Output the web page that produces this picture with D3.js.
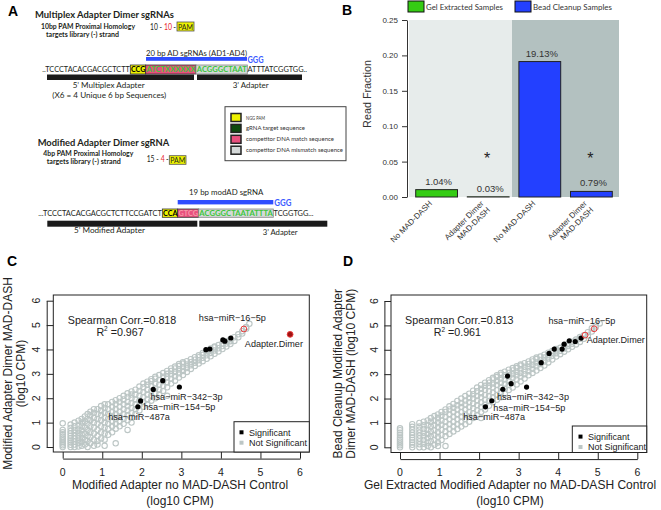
<!DOCTYPE html>
<html><head><meta charset="utf-8">
<script src="https://cdn.jsdelivr.net/npm/d3@7"></script>
<style>body{margin:0;background:#fff}svg{display:block}</style>
</head><body>
<svg id="fig" width="661" height="510"></svg>
<script>
// ---------------- DATA ----------------
const barCategories = ["No MAD-DASH","Adapter Dimer\nMAD-DASH","No MAD-DASH","Adapter Dimer\nMAD-DASH"];
const barGroupIndex = [0,0,1,1];
const groupNames = ["Gel Extracted Samples","Bead Cleanup Samples"];
const barValues = [0.0104,0.0003,0.1913,0.0079];
const barLabels = ["1.04%","0.03%","19.13%","0.79%"];
const barSignificant = [false,true,false,true];
const barSigLevel = 0.06;
const barTicks = [0,0.05,0.10,0.15,0.20,0.25];

const scatterTicks = [0,1,2,3,4,5,6];

// Panel C: gray (not significant) cloud, columns [x, [y...]]
const cloudC = [
[0,[0,.07,.14,.21,.28,.35,.43,.52,.6,.7,.97]],
[.2,[0,.09,.18,.27,.36,.46,.56,.66,.78,.92]],
[.3,[0,.1,.22,.34,.46,.58,.7,.85,1.0]],
[.4,[.02,.16,.3,.44,.58,.72,.88,1.08]],
[.48,[.05,.2,.36,.52,.68,.84,1.0,1.15]],
[.56,[.1,.3,.55,.8,1.05,1.25]],
[.63,[0,.25,.45,.7,.95,1.15,1.35]],
[.7,[.15,.4,.6,.85,1.1,1.3,1.45]],
[.79,[.05,.3,.55,.8,1.0,1.2,1.4,1.55]],
[.88,[.1,.25,.45,.7,.95,1.15,1.35,1.55]],
[.97,[.35,.6,.85,1.1,1.3,1.5,1.68]],
[1.06,[.05,.3,.55,.8,1.0,1.2,1.4,1.6,1.75]],
[1.15,[.5,.75,.95,1.15,1.35,1.55,1.75]],
[1.25,[.6,.85,1.05,1.25,1.45,1.65,1.85]],
[1.34,[.15,.75,.95,1.15,1.35,1.55,1.75,1.92]],
[1.44,[.85,1.05,1.25,1.45,1.65,1.85,2.0]],
[1.54,[.95,1.15,1.35,1.55,1.75,1.95,2.1]],
[1.64,[.7,1.1,1.3,1.5,1.68,1.85,2.05,2.2]],
[1.74,[1.0,1.2,1.4,1.6,1.8,2.0,2.15,2.28]],
[1.84,[1.35,1.55,1.75,1.95,2.15,2.35]],
[1.94,[1.5,1.7,1.9,2.1,2.3,2.48]],
[2.04,[1.65,1.85,2.05,2.25,2.45,2.6]],
[2.14,[1.75,1.95,2.15,2.35,2.55,2.68]],
[2.24,[1.9,2.1,2.3,2.5,2.7,2.78]],
[2.34,[2.0,2.2,2.4,2.6,2.8,2.88]],
[2.44,[2.15,2.35,2.55,2.75,2.95]],
[2.54,[2.3,2.5,2.7,2.88,3.03]],
[2.64,[2.1,2.45,2.65,2.85,3.0,3.12]],
[2.74,[2.6,2.8,2.98,3.12,3.22]],
[2.84,[2.72,2.9,3.08,3.22,3.3]],
[2.94,[2.85,3.02,3.18,3.32,3.4]],
[3.04,[2.95,3.12,3.28,3.42,3.48]],
[3.14,[3.08,3.24,3.38,3.52]],
[3.24,[3.2,3.35,3.48,3.6]],
[3.34,[3.32,3.46,3.58,3.68]],
[3.44,[3.42,3.56,3.68,3.76]],
[3.54,[3.52,3.66,3.78,3.86]],
[3.64,[3.62,3.76,3.88,3.95]],
[3.74,[3.72,3.86,3.98,4.04]],
[3.84,[3.82,3.96,4.08,4.12]],
[3.94,[3.92,4.05,4.18]],
[4.04,[4.02,4.14,4.25]],
[4.14,[4.12,4.24,4.34]],
[4.24,[4.22,4.34,4.42]],
[4.34,[4.35,4.5]],
[4.44,[4.5,4.62]],
[4.54,[4.65,4.75]],
[4.64,[4.85,4.92]],
[4.72,[5.05]]
];
const sigC = [[4.25,4.47],[4.10,4.34],[4.05,4.39],[3.72,4.02],[3.62,3.99],[2.53,2.72],[2.29,2.36],[2.95,2.46],[1.97,1.89],[1.90,1.65]];
const highlightC = [{x:4.58,y:4.84,filled:false},{x:5.75,y:4.62,filled:true}];
const labelsC = [
 ["hsa−miR−16−5p",4.29,5.29,"middle"],
 ["Adapter.Dimer",5.34,4.22,"middle"],
 ["hsa−miR−342−3p",2.22,2.06,"start"],
 ["hsa−miR−154−5p",2.04,1.63,"start"],
 ["hsa−miR−487a",1.15,1.24,"start"]
];
const statsC = ["0.818","0.967"];

// Panel D
const cloudD = [
[0,[0,.08,.16,.24,.32,.4,.5,.6,.7,.78]],
[.31,[0,.1,.2,.3,.4,.5,.6,.72,.84,.95]],
[.49,[0,.12,.24,.36,.48,.6,.72,.85,1.0]],
[.6,[0,.15,.3,.45,.6,.75,.9,1.05]],
[.7,[.05,.2,.38,.55,.72,.9,1.1]],
[.78,[0,.25,.45,.65,.85,1.05,1.2]],
[.87,[.1,.3,.5,.7,.9,1.1,1.28]],
[.96,[.05,.2,.42,.62,.82,1.02,1.2,1.35]],
[1.05,[.3,.5,.72,.92,1.1,1.3,1.45]],
[1.15,[.05,.45,.65,.85,1.05,1.25,1.45,1.55]],
[1.25,[.55,.75,.95,1.15,1.35,1.55,1.68]],
[1.35,[.65,.85,1.05,1.25,1.45,1.62,1.78]],
[1.45,[.75,.95,1.15,1.35,1.55,1.72,1.9]],
[1.55,[.85,1.05,1.25,1.45,1.65,1.82,2.0]],
[1.65,[.95,1.15,1.35,1.55,1.75,1.92,2.1]],
[1.75,[1.05,1.25,1.45,1.65,1.85,2.02,2.2]],
[1.85,[1.2,1.4,1.6,1.8,2.0,2.18,2.32]],
[1.95,[1.32,1.52,1.72,1.92,2.1,2.3,2.45]],
[2.05,[1.2,1.45,1.65,1.85,2.05,2.22,2.4,2.56]],
[2.15,[1.55,1.75,1.95,2.15,2.35,2.52,2.65]],
[2.25,[1.7,1.9,2.1,2.3,2.5,2.65,2.75]],
[2.35,[1.85,2.05,2.25,2.45,2.62,2.78,2.85]],
[2.45,[1.95,2.15,2.35,2.55,2.72,2.88,2.95]],
[2.55,[2.05,2.25,2.45,2.65,2.82,2.98,3.05]],
[2.65,[2.2,2.4,2.6,2.78,2.95,3.1]],
[2.75,[2.35,2.55,2.72,2.9,3.05,3.18]],
[2.85,[2.45,2.65,2.85,3.0,3.15,3.25]],
[2.95,[2.58,2.78,2.95,3.1,3.25,3.32]],
[3.05,[2.7,2.9,3.05,3.2,3.35,3.4]],
[3.15,[2.82,3.0,3.15,3.3,3.45]],
[3.25,[2.95,3.12,3.28,3.42,3.52]],
[3.35,[3.05,3.22,3.38,3.52,3.6]],
[3.45,[3.15,3.32,3.48,3.62,3.68]],
[3.55,[3.25,3.42,3.58,3.72]],
[3.65,[3.35,3.52,3.68,3.8]],
[3.75,[3.48,3.64,3.78,3.88]],
[3.85,[3.6,3.75,3.88,3.95]],
[3.95,[3.72,3.86,3.98,4.03]],
[4.05,[3.82,3.96,4.08]],
[4.15,[3.92,4.05,4.16]],
[4.25,[4.02,4.15,4.25]],
[4.35,[4.12,4.25,4.33]],
[4.45,[4.22,4.35,4.42]],
[4.55,[4.32,4.45,4.52]],
[4.65,[4.45,4.6]],
[4.75,[4.58,4.72]],
[4.85,[4.75,4.88]],
[4.95,[4.92,5.0]],
[5.05,[5.08]]
];
const sigD = [[4.58,4.48],[4.43,4.34],[4.28,4.37],[4.15,4.23],[4.10,4.03],[3.90,4.03],[3.77,3.85],[3.57,3.47],[2.72,2.92],[2.81,2.61],[3.20,2.47],[2.60,2.38],[2.32,1.91],[2.16,1.66]];
const highlightD = [{x:4.91,y:4.86,filled:false},{x:4.68,y:4.60,filled:false}];
const labelsD = [
 ["hsa−miR−16−5p",4.60,5.18,"middle"],
 ["Adapter.Dimer",4.72,4.40,"start"],
 ["hsa−miR−342−3p",2.45,2.07,"start"],
 ["hsa−miR−154−5p",2.36,1.64,"start"],
 ["hsa−miR−487a",1.60,1.25,"start"]
];
const statsD = ["0.813","0.961"];

// ---------------- DRAW ----------------
const svg = d3.select("#fig");
const SANS = "'Liberation Sans', Arial, Helvetica, sans-serif";
const HUM = "Lato, 'Open Sans', sans-serif";

function txt(g,x,y,s,o={}){
  const t=g.append("text").attr("x",x).attr("y",y)
    .attr("font-family",o.ff||HUM).attr("font-size",o.fs||8)
    .attr("fill",o.fill||"#231f20");
  if(s!==null) t.text(s);
  if(o.bold) t.attr("font-weight","bold");
  if(o.w) t.attr("textLength",o.w).attr("lengthAdjust","spacingAndGlyphs");
  if(o.anchor) t.attr("text-anchor",o.anchor);
  return t;
}

// panel letters
[["A",8,16],["B",342,15],["C",7,266],["D",343,266]].forEach(([s,x,y])=>
  txt(svg,x,y,s,{ff:SANS,fs:14,bold:1,fill:"#000"}));

// ======== Panel A (schematic) ========
const gA = svg.append("g");
const YEL="#eef200", PINK="#e8507e", GRY="#d5d9d9", GRN="#3cc63c", BLU="#2f4dff", RED="#e8262b";
txt(gA,35,17.5,"Multiplex Adapter Dimer sgRNAs",{bold:1,fs:9.5,w:139});
txt(gA,41,29,"10bp PAM Proximal Homology",{bold:1,fs:6.5,w:94});
txt(gA,46,37,"targets library (-) strand",{bold:1,fs:6.5,w:73});
txt(gA,150,29.5,"10 -",{fs:8.5,w:12});
txt(gA,164,29.5,"10",{fs:8.5,w:8,fill:RED});
txt(gA,173.3,29.5,"-",{fs:8.5,w:2.8});
gA.append("rect").attr("x",177).attr("y",22).attr("width",17).attr("height",9).attr("fill",YEL).attr("stroke","#555").attr("stroke-width",0.8);
txt(gA,178,29.5,"PAM",{fs:8,w:15});

txt(gA,146,55.5,"20 bp AD sgRNAs (AD1-AD4)",{fs:8,w:101});
gA.append("rect").attr("x",146).attr("y",57).attr("width",101).attr("height",3.8).attr("fill",BLU);
txt(gA,247.5,63,"GGG",{fs:8.5,bold:1,fill:"#3d5cff",w:16});
[[130.3,15.4,YEL,"#333"],[145.7,50.3,PINK,"#333"],[196,51.3,GRY,"#888"]].forEach(([x,w,f,s])=>
  gA.append("rect").attr("x",x).attr("y",65).attr("width",w).attr("height",9).attr("fill",f).attr("stroke",s).attr("stroke-width",0.8));
txt(gA,42.3,72.3,"..TCCCTACACGACGCTCTT",{fs:7.5,w:87.5});
txt(gA,131,72.3,"CCG",{fs:7.5,bold:1,w:14.3,fill:"#000"});
txt(gA,146.5,72.3,"ATCTXXXXXX",{fs:7.5,bold:1,w:49,fill:GRN});
txt(gA,196.8,72.3,"ACGGGCTAAT",{fs:7.5,bold:1,w:50,fill:GRN});
txt(gA,247.6,72.3,"ATTTATCGGTGG..",{fs:7.5,w:59.5});
gA.append("rect").attr("x",47).attr("y",74.5).attr("width",147).attr("height",5.5).attr("fill","#1a1a1a");
gA.append("rect").attr("x",197).attr("y",74.5).attr("width",105).attr("height",5.5).attr("fill","#1a1a1a");
txt(gA,72.7,87.5,"5’ Multiplex Adapter",{fs:8,w:72});
txt(gA,52.3,97.5,"(X6 = 4  Unique 6 bp Sequences)",{fs:8,w:114});
txt(gA,232.7,87.5,"3’ Adapter",{fs:8,w:36});

// legend box
gA.append("rect").attr("x",225).attr("y",106.7).attr("width",121).attr("height",54).attr("fill","#fff").attr("stroke","#444").attr("stroke-width",1);
[["NGG PAM",YEL,19],["gRNA target sequence","#0d4a0d",59],["competitor DNA match sequence",PINK,88],["competitor DNA mismatch sequence",GRY,97]]
.forEach(([s,c,w],i)=>{
  const cy=117.5+i*10.9;
  gA.append("rect").attr("x",231).attr("y",cy-4).attr("width",10).attr("height",8).attr("fill",c).attr("stroke","#222").attr("stroke-width",1.5);
  txt(gA,246,cy+2,s,{fs:5.5,w:w,fill:"#333"});
});

txt(gA,37.7,145.7,"Modified Adapter Dimer sgRNA",{bold:1,fs:9.5,w:131.6});
txt(gA,43.3,156,"4bp PAM Proximal Homology",{bold:1,fs:6.5,w:90});
txt(gA,46.7,164.3,"targets library (-) strand",{bold:1,fs:6.5,w:74});
txt(gA,146.7,162.3,"15 -",{fs:8.5,w:12});
txt(gA,160.8,162.3,"4",{fs:8.5,w:4,fill:RED});
txt(gA,166,162.3,"-",{fs:8.5,w:2.6});
gA.append("rect").attr("x",169.3).attr("y",155.7).attr("width",16.7).attr("height",8.6).attr("fill",YEL).attr("stroke","#555").attr("stroke-width",0.8);
txt(gA,170.2,162.5,"PAM",{fs:8,w:15});
txt(gA,189,194.7,"19 bp modAD sgRNA",{fs:8,w:74.3});
gA.append("rect").attr("x",177.7).attr("y",200).attr("width",95.6).attr("height",4.4).attr("fill",BLU);
txt(gA,274.3,206,"GGG",{fs:8.5,bold:1,fill:"#3d5cff",w:17});
[[162.3,15.4,YEL,"#333"],[177.7,21,PINK,"#333"],[198.7,74.6,GRY,"#888"]].forEach(([x,w,f,s])=>
  gA.append("rect").attr("x",x).attr("y",209).attr("width",w).attr("height",8.3).attr("fill",f).attr("stroke",s).attr("stroke-width",0.8));
txt(gA,38.3,216,"...TCCCTACACGACGCTCTTCCGATCT",{fs:7.5,w:123.5});
txt(gA,163,216,"CCA",{fs:7.5,bold:1,w:14.5,fill:"#000"});
txt(gA,178.5,216,"GTCG",{fs:7.5,bold:1,w:19.5,fill:"#f59aa8"});
txt(gA,199.3,216,"ACGGGCTAATATTTA",{fs:7.5,bold:1,w:73.5,fill:GRN});
txt(gA,273.6,216,"TCGGTGG...",{fs:7.5,w:40});
gA.append("rect").attr("x",47.3).attr("y",220.7).attr("width",150).attr("height",6).attr("fill","#1a1a1a");
gA.append("rect").attr("x",199.3).attr("y",220.7).attr("width",128).attr("height",6).attr("fill","#1a1a1a");
txt(gA,74,233.3,"5’ Modified Adapter",{fs:8,w:71});
txt(gA,262.7,235,"3’ Adapter",{fs:8,w:35});

// ======== Panel B (bar chart) ========
const gB = svg.append("g");
const groupFill = ["#35cc14","#2340ff"];
const groupBg = ["#e7eceb","#b3c1c0"];
const bx = d3.scaleBand().domain(d3.range(barValues.length)).range([409,619]).paddingInner(0.19).paddingOuter(0.13);
const by = d3.scaleLinear().domain([0,0.25]).range([197,20]);
groupNames.forEach((g,gi)=>{
  const idx = d3.range(barValues.length).filter(i=>barGroupIndex[i]===gi);
  const half = bx.step()*bx.paddingInner()/2;
  const x0 = gi===0 ? bx.range()[0] : bx(idx[0]) - half - 2;
  const x1 = gi===groupNames.length-1 ? bx.range()[1] : bx(idx[idx.length-1]) + bx.bandwidth() + half - 2;
  gB.append("rect").attr("x",x0).attr("y",by(0.25)).attr("width",x1-x0).attr("height",by(0)-by(0.25)).attr("fill",groupBg[gi]);
});
gB.selectAll("rect.bar").data(barValues).join("rect").attr("class","bar")
  .attr("x",(d,i)=>bx(i)).attr("width",bx.bandwidth())
  .attr("y",d=>by(d)).attr("height",d=>by(0)-by(d))
  .attr("fill",(d,i)=>groupFill[barGroupIndex[i]]).attr("stroke","#222").attr("stroke-width",1);
gB.selectAll("text.bl").data(barValues).join("text").attr("class","bl")
  .attr("x",(d,i)=>bx(i)+bx.bandwidth()/2+2).attr("y",d=>by(d)-5)
  .attr("text-anchor","middle").attr("font-family",SANS).attr("font-size",9.5).attr("fill","#333")
  .text((d,i)=>barLabels[i]);
gB.selectAll("text.sig").data(barValues.map((d,i)=>i).filter(i=>barSignificant[i])).join("text").attr("class","sig")
  .attr("x",i=>bx(i)+bx.bandwidth()/2-1).attr("y",by(barSigLevel)+9)
  .attr("text-anchor","middle").attr("font-family",SANS).attr("font-size",16).attr("fill","#222").text("*");
const yAxB = d3.axisLeft(by).tickValues(barTicks).tickFormat(d3.format(".2f")).tickSize(5).tickPadding(4).tickSizeOuter(0);
const gyB = gB.append("g").attr("transform","translate(407,0)").call(yAxB);
gyB.selectAll("text").attr("font-family",SANS).attr("font-size",8).attr("fill","#333");
gyB.selectAll("line,path").attr("stroke","#333");
txt(gB,0,0,"Read Fraction",{ff:SANS,fs:10.8,fill:"#333",anchor:"middle"}).attr("transform","translate(371,94) rotate(-90)");
barCategories.forEach((c,i)=>{
  const g = gB.append("g").attr("transform",`translate(${bx(i)+bx.bandwidth()/2-4},204) rotate(-45)`);
  c.split("\n").forEach((line,j)=>txt(g,0,j*9,line,{ff:SANS,fs:8,fill:"#333",anchor:"end"}));
});
groupNames.forEach((n,gi)=>{
  const x = [408,515][gi];
  gB.append("rect").attr("x",x).attr("y",1).attr("width",16).attr("height",11).attr("fill",groupFill[gi]).attr("stroke","#111").attr("stroke-width",1);
  txt(gB,x+18,9.5,n,{fs:7,w:[77,79][gi],fill:"#333"});
});

// ======== Scatter panels ========
function scatter(cfg){
  const g = svg.append("g");
  const x = d3.scaleLinear().domain([0,6]).range(cfg.xr);
  const y = d3.scaleLinear().domain([0,6]).range(cfg.yr);
  const f = cfg.frame;
  const pts = cfg.cloud.flatMap(([cx,ys])=>ys.map(v=>[cx,v]));
  g.selectAll("circle.ns").data(pts).join("circle").attr("class","ns")
    .attr("cx",d=>x(d[0])).attr("cy",d=>y(d[1])).attr("r",2.7)
    .attr("fill","none").attr("stroke","#bcc6c5").attr("stroke-width",1.1);
  g.selectAll("circle.sg").data(cfg.sig).join("circle").attr("class","sg")
    .attr("cx",d=>x(d[0])).attr("cy",d=>y(d[1])).attr("r",2.6).attr("fill","#000");
  g.selectAll("circle.hl").data(cfg.hl).join("circle").attr("class","hl")
    .attr("cx",d=>x(d.x)).attr("cy",d=>y(d.y)).attr("r",2.9)
    .attr("fill",d=>d.filled?"#a01212":"none").attr("stroke","#e83a3a").attr("stroke-width",1);
  g.append("rect").attr("x",f[0]).attr("y",f[1]).attr("width",f[2]-f[0]).attr("height",f[3]-f[1])
    .attr("fill","none").attr("stroke","#222").attr("stroke-width",1);
  const ax = g.append("g").attr("transform",`translate(0,${f[3]+6.6})`)
    .call(d3.axisBottom(x).tickValues(scatterTicks).tickSize(-6.6).tickSizeOuter(0).tickFormat(""));
  const ay = g.append("g").attr("transform",`translate(${f[0]-6.6},0)`)
    .call(d3.axisLeft(y).tickValues(scatterTicks).tickSize(-6.6).tickSizeOuter(0).tickFormat(""));
  [ax,ay].forEach(a=>a.selectAll("line,path").attr("stroke","#222"));
  scatterTicks.forEach(t=>{
    txt(g,x(t),475.5,String(t),{ff:SANS,fs:10.5,fill:"#222",anchor:"middle"});
    txt(g,0,0,String(t),{ff:SANS,fs:10.5,fill:"#222",anchor:"middle"})
      .attr("transform",`translate(${f[0]-13.5},${y(t)}) rotate(-90)`);
  });
  cfg.xt.forEach((s,i)=>txt(g,cfg.xtc,489+i*16,s,{ff:SANS,fs:12,fill:"#222",anchor:"middle"}));
  cfg.yt.forEach((s,i)=>txt(g,0,0,s,{ff:SANS,fs:12,fill:"#222",anchor:"middle"})
      .attr("transform",`translate(${cfg.ytx+i*12.5},${(f[1]+f[3])/2}) rotate(-90)`));
  txt(g,x(1.5),y(5.2)+3.8,"Spearman Corr.="+cfg.stats[0],{ff:SANS,fs:10.7,fill:"#222",anchor:"middle"});
  const r2 = txt(g,x(1.45),y(4.72)+3.8,null,{ff:SANS,fs:10.7,fill:"#222",anchor:"middle"});
  r2.append("tspan").text("R");
  r2.append("tspan").attr("font-size",6.5).attr("dy",-4.5).text("2");
  r2.append("tspan").attr("dy",4.5).text(" =" + cfg.stats[1]);
  cfg.labels.forEach(([s,lx,ly,a])=>txt(g,x(lx),y(ly)+3.2,s,{ff:SANS,fs:9.1,fill:"#222",anchor:a}));
  const L = cfg.legend;
  g.append("rect").attr("x",L[0]).attr("y",L[1]).attr("width",f[2]-L[0]).attr("height",f[3]-L[1])
    .attr("fill","#fff").attr("stroke","#222").attr("stroke-width",1);
  [["Significant","#000"],["Not Significant","#bcc6c5"]].forEach(([s,c],i)=>{
    const cy = L[1]+10.6+i*10.4;
    g.append("rect").attr("x",L[2]-2).attr("y",cy-2).attr("width",4).attr("height",4).attr("fill",c);
    txt(g,L[2]+7.5,cy+3.2,s,{ff:SANS,fs:9,fill:"#222"});
  });
}
scatter({xr:[62.7,300],yr:[447,300.7],frame:[53.3,295,309.3,452],cloud:cloudC,sig:sigC,hl:highlightC,
  labels:labelsC,stats:statsC,legend:[234,421.7,241.5],
  xt:["Modified Adapter no MAD-DASH Control","(log10 CPM)"],xtc:180,
  yt:["Modified Adapter Dimer MAD-DASH","(log10 CPM)"],ytx:12});
scatter({xr:[400,637.3],yr:[447.3,301],frame:[391,295,646.7,452.5],cloud:cloudD,sig:sigD,hl:highlightD,
  labels:labelsD,stats:statsD,legend:[572.3,426,580.5],
  xt:["Gel Extracted Modified Adapter no MAD-DASH Control","(log10 CPM)"],xtc:510,
  yt:["Bead Cleanup Modified Adapter","Dimer MAD-DASH (log10 CPM)"],ytx:342});
</script>
</body></html>
